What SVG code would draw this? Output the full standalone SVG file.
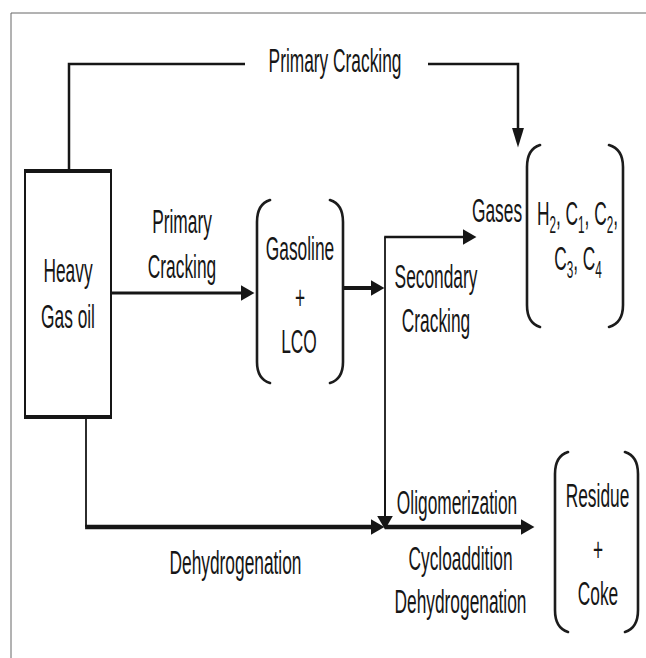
<svg xmlns="http://www.w3.org/2000/svg" width="646" height="658" viewBox="0 0 646 658">
<style>
.t{font-family:"Liberation Sans",Arial,sans-serif;font-size:34px;fill:#161616;text-anchor:middle}
.ln{fill:none;stroke:#161616;stroke-linecap:butt;stroke-linejoin:miter}
.par{fill:none;stroke:#1c1c1c;stroke-width:2.6;stroke-linecap:round}
.frame{fill:none;stroke:#666;stroke-width:1}
</style>
<defs>
<marker id="ah" markerUnits="userSpaceOnUse" markerWidth="14" markerHeight="16" refX="2" refY="7" orient="auto" viewBox="0 0 12 14">
<path d="M0,0 L12,7 L0,14 z" fill="#161616"/>
</marker>
<marker id="ahN" markerUnits="userSpaceOnUse" markerWidth="20" markerHeight="12" refX="2" refY="5.5" orient="auto" viewBox="0 0 18 11">
<path d="M0,0 L18,5.5 L0,11 z" fill="#161616"/>
</marker>
</defs>
<rect width="646" height="658" fill="#fff"/>
<g id="frame">
<path class="frame" d="M11,658 L11,13 L646,13"/>
</g>
<g id="connectors">
<path class="ln" stroke-width="2.5" d="M69,171 L69,64 L245,64"/>
<path class="ln" stroke-width="2.5" d="M428,64 L518,64 L518,130" marker-end="url(#ahN)"/>
<path class="ln" stroke-width="3" d="M111,293 L243,293" marker-end="url(#ah)"/>
<path class="ln" stroke-width="4" d="M343,288 L373,288" marker-end="url(#ah)"/>
<path class="ln" stroke-width="1.8" d="M385,520 L385,237"/>
<path class="ln" stroke-width="2.5" d="M384.2,237 L465,237" marker-end="url(#ah)"/>
<path class="ln" stroke-width="1.8" d="M385,470 L385,518" marker-end="url(#ah)"/>
<path class="ln" stroke-width="1.8" d="M86,417 L86,527"/>
<path class="ln" stroke-width="4.5" d="M85.1,527 L373,527" marker-end="url(#ah)"/>
<path class="ln" stroke-width="4.5" d="M385,527 L523,527" marker-end="url(#ah)"/>
</g>
<g id="heavy-gas-oil">
<rect x="25" y="171" width="86" height="246" fill="#fff" stroke="#161616" stroke-width="2"/>
<line x1="24" y1="171" x2="112" y2="171" stroke="#161616" stroke-width="4"/>
<line x1="24" y1="417" x2="112" y2="417" stroke="#161616" stroke-width="4"/>
<text class="t" transform="translate(68,282) scale(0.51,1)">Heavy</text>
<text class="t" transform="translate(68,328) scale(0.51,1)">Gas oil</text>
</g>
<g id="label-primary-top">
<text class="t" transform="translate(335,72) scale(0.51,1)">Primary Cracking</text>
</g>
<g id="label-primary-mid">
<text class="t" transform="translate(182,233) scale(0.51,1)">Primary</text>
<text class="t" transform="translate(182,278) scale(0.51,1)">Cracking</text>
</g>
<g id="gasoline-lco">
<path class="par" d="M270,200 Q257,204 257,222 L257,362 Q257,379 270,383"/>
<path class="par" d="M330,200 Q343,204 343,222 L343,362 Q343,379 330,383"/>
<text class="t" transform="translate(300,260) scale(0.51,1)">Gasoline</text>
<text class="t" transform="translate(300,309) scale(0.51,1)">+</text>
<text class="t" transform="translate(299,353) scale(0.51,1)">LCO</text>
</g>
<g id="label-secondary">
<text class="t" transform="translate(436,288) scale(0.51,1)">Secondary</text>
<text class="t" transform="translate(436,332) scale(0.51,1)">Cracking</text>
</g>
<g id="gases">
<text class="t" transform="translate(497,222) scale(0.51,1)">Gases</text>
<path class="par" d="M540,145 Q527,149 527,167 L527,305 Q527,323 540,327"/>
<path class="par" d="M609,145 Q623,149 623,167 L623,305 Q623,323 609,327"/>
<text class="t" transform="translate(577.5,225) scale(0.51,1)">H<tspan font-size="23" dy="8">2</tspan><tspan dy="-8">, C</tspan><tspan font-size="23" dy="8">1</tspan><tspan dy="-8">, C</tspan><tspan font-size="23" dy="8">2</tspan><tspan dy="-8">,</tspan></text>
<text class="t" transform="translate(578,270) scale(0.51,1)">C<tspan font-size="23" dy="8">3</tspan><tspan dy="-8">, C</tspan><tspan font-size="23" dy="8">4</tspan></text>
</g>
<g id="label-dehydrogenation-left">
<text class="t" transform="translate(235.5,574) scale(0.51,1)">Dehydrogenation</text>
</g>
<g id="label-oligomerization">
<text class="t" transform="translate(457,514) scale(0.51,1)">Oligomerization</text>
<text class="t" transform="translate(460.5,570) scale(0.51,1)">Cycloaddition</text>
<text class="t" transform="translate(460.5,613) scale(0.51,1)">Dehydrogenation</text>
</g>
<g id="residue-coke">
<path class="par" d="M568,452 Q555,456 555,474 L555,610 Q555,628 568,632"/>
<path class="par" d="M625,452 Q638,456 638,474 L638,610 Q638,628 625,632"/>
<text class="t" transform="translate(597.5,507) scale(0.51,1)">Residue</text>
<text class="t" transform="translate(598,561) scale(0.51,1)">+</text>
<text class="t" transform="translate(598,605) scale(0.51,1)">Coke</text>
</g>
</svg>
